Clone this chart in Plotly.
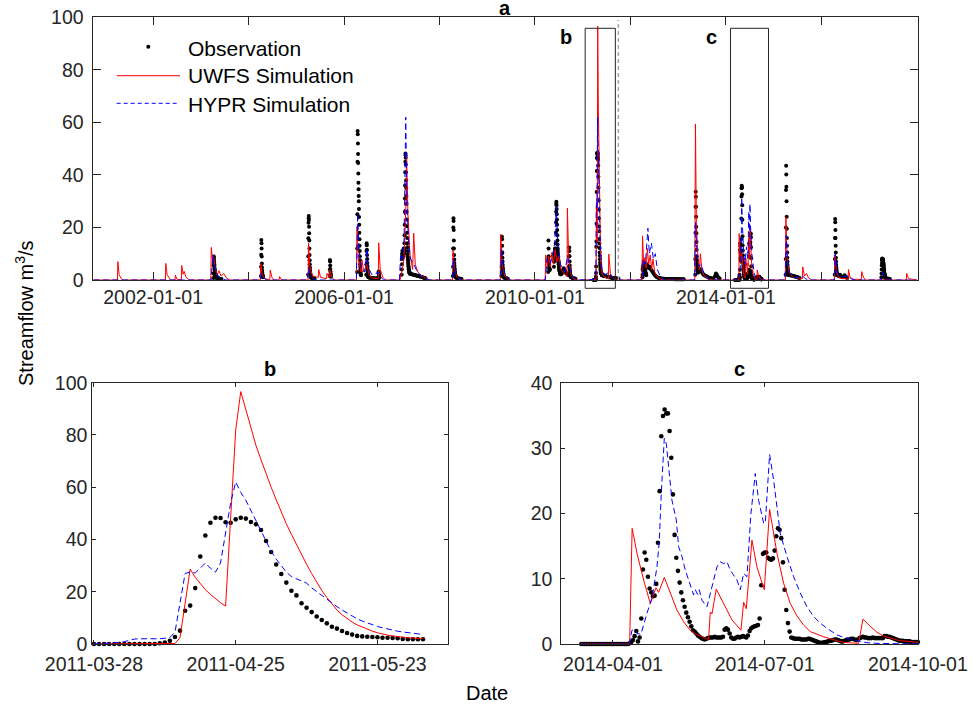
import pandas as pd
import plotly.graph_objects as go

FONT = "Liberation Sans, Arial, Helvetica, sans-serif"
TXT = "#262626"

# ---------------- Panel b: daily values from b_start ----------------
b_start = "2011-03-28"
b_obs = [0, 0, 0, 0, 0, 0, 0, 0, 0, 0, 0, 0, 0,
         0.3, 0.6, 1.2, 2.7, 5.1, 12.7, 14.7, 21.4, 33.5, 41.5,
         46.4, 48.3, 48.2, 46.6, 46.4, 47.7, 48.3, 48.0, 46.7, 45.8,
         43.6, 39.4, 35.2, 30.4, 26.8, 23.5, 20.4, 18.6, 15.6, 13.9,
         12.2, 10.5, 9.2, 7.9, 6.6, 5.9, 5.0, 4.2, 3.6, 3.1,
         2.9, 2.8, 2.7, 2.6, 2.4, 2.4, 2.3, 2.2, 1.9, 1.8, 1.8, 1.8, 1.8]
b_uwfs = [0, 0, 0, 0, 0, 0, 0, 0, 0, 0, 0, 0, 0, 0, 0, 0,
          0.2, 2.4, 15.5, 28.7, 25.5, 23.0, 20.8, 19.0, 17.3, 15.8, 14.5,
          48.0, 82.0, 96.6, 89.5, 82.5, 76.0, 70.5, 65.0, 60.0, 55.2, 50.5,
          46.0, 42.0, 38.0, 34.0, 30.5, 27.0, 23.5, 20.5, 17.8, 15.3, 13.0,
          11.2, 9.7, 8.4, 7.3, 6.4, 5.6, 4.9, 4.3, 3.8, 3.4, 3.1, 2.8,
          2.6, 2.4, 2.3, 2.2, 2.1]
b_hypr = [0, 0.1, 0.2, 0.3, 0.4, 0.6, 0.9, 1.4, 1.9, 2.0, 2.0, 1.9, 1.9, 2.0, 2.2, 2.5,
          4.5, 15.0, 27.0, 27.5, 27.2, 29.0, 31.0, 29.0, 27.5, 31.0, 42.0, 54.0, 62.0,
          58.0, 55.0, 51.0, 47.0, 43.0, 39.0, 35.5, 32.5, 30.0, 27.5, 25.8, 25.0,
          24.3, 23.3, 21.5, 20.0, 18.7, 17.3, 15.8, 14.3, 13.0, 11.8, 10.6, 9.6,
          8.8, 8.0, 7.3, 6.7, 6.2, 5.7, 5.3, 4.9, 4.6, 4.3, 4.1, 3.9, 3.7]

# ---------------- Panel c ----------------
c_obs_start = "2014-03-13"
c_obs = [0, 0, 0, 0, 0, 0, 0, 0, 0, 0, 0, 0, 0, 0, 0, 0, 0, 0, 0, 0,
         0, 0, 0, 0, 0, 0, 0, 0, 0,
         0.1, 0.3, 0.6, 1.2, 2.0, 0.4, 1.0, 3.9,
         11.4, 14.0, 12.9, 10.3, 8.5, 7.9, 7.3, 7.4,
         9.2, 15.5, 23.4, 31.8, 34.9, 35.9, 35.3, 35.3,
         32.6, 28.5, 22.9, 16.7, 13.2, 11.2, 9.4, 7.9,
         6.7, 5.7, 4.8, 4.1, 3.4, 2.7, 2.1, 1.9,
         1.6, 1.3, 1.1, 0.9, 0.8, 0.7, 0.8, 0.9,
         1.0, 1.0, 1.0, 1.1, 1.0, 1.0, 1.0, 1.0, 1.1,
         2.2, 2.4, 2.2, 1.6, 1.0, 0.8, 0.8, 1.0, 1.1, 1.0, 1.1, 1.2, 1.1, 1.0, 1.3,
         2.0, 2.4, 2.6, 2.7, 2.8, 2.9, 3.9,
         9.0, 13.8, 14.0, 14.0, 13.2, 13.0, 12.9, 13.1, 14.3, 16.5, 17.7, 17.5,
         16.2, 12.5, 8.3, 5.2, 3.2, 1.9, 1.0, 0.9,
         0.8, 0.8, 0.8, 0.8, 0.7, 0.7, 0.7, 0.7, 0.8, 0.8, 0.7, 0.6,
         0.5, 0.4, 0.3, 0.2, 0.2, 0.2, 0.3, 0.3, 0.4, 0.5,
         0.5, 0.6, 0.7, 0.7, 0.6, 0.5, 0.4, 0.4, 0.5, 0.6, 0.7, 0.7, 0.8, 0.8, 0.7, 0.6, 0.7, 0.9,
         1.0, 1.1, 1.0, 1.0, 0.9, 0.9, 0.9, 1.0, 0.9, 0.9, 0.9, 0.9, 0.9, 0.9,
         1.2, 1.2, 1.1, 1.1, 1.0, 0.9, 0.8, 0.7,
         0.6, 0.5, 0.5, 0.5, 0.4, 0.4, 0.4, 0.4, 0.3, 0.3, 0.3, 0.3, 0.3]
c_ref = "2014-04-01"   # day offsets below are counted from this date
c_uwfs_day = [-19, 10, 11.5, 14.4, 18.4, 22.4, 25.8, 27.4, 30.8, 34.4, 38.4, 42.4, 46.4,
              50.4, 57.4, 58.4, 59.4, 62, 66.4, 71.4, 76.8, 78.4, 80, 83.4, 86.4, 90.8,
              94, 98.4, 102.4, 106.4, 110.4, 114.4, 118.4, 120.4, 126.4, 134.4, 138.4,
              147.4, 150, 154.4, 158.4, 162.4, 166.4, 172.4, 183]
c_uwfs = [0, 0, 17.7, 13.9, 9.8, 6.2, 8.6, 7.9, 10.2, 7.8, 5.2, 3.4, 2.1,
          1.4, 0.7, 4.9, 4.6, 8.4, 6.2, 3.7, 2.1, 6.4, 5.4, 15.9, 11.8, 8.3,
          20.6, 13.9, 9.3, 6.2, 4.3, 2.9, 1.9, 1.7, 1.1, 0.5, 0.25,
          0.1, 3.8, 2.7, 1.8, 1.2, 0.9, 0.5, 0.25]
c_hypr_day = [-19, 9.8, 11.4, 12.8, 14.4, 16.8, 20.4, 23.4, 26.4, 27.8,
              29, 30.8, 32, 33.4, 35.4, 38, 39.4, 41.4, 43.4, 45.4,
              48.4, 49.4, 50.8, 51.8, 53.4, 56.4, 59.4, 62.4, 64.4, 66.4,
              68.4, 70.4, 74.4, 76.4, 78.4, 80.4, 82.8, 85.4, 87.4, 90.4,
              91.4, 94, 96.4, 98.4, 100.4, 104.4, 108.4, 112.4, 116.4, 120.4,
              124.4, 128.4, 134.4, 138.4, 146.4, 152.4, 158.4, 183]
c_hypr = [0, 0, 2.1, 2.2, 1.6, 1.5, 4.7, 7.0, 11.8, 15.7,
          23.1, 31.5, 30.7, 26.6, 22.0, 19.0, 14.9, 13.4, 11.3, 9.8,
          7.5, 8.3, 7.6, 8.3, 6.7, 5.7, 8.8, 11.8, 12.6, 12.3,
          12.6, 11.3, 9.8, 8.3, 10.8, 10.3, 20.0, 26.1, 22.0, 18.5,
          18.5, 29.0, 25.1, 20.5, 16.9, 13.4, 10.3, 7.8, 5.7, 4.2,
          3.2, 2.4, 1.4, 1.0, 0.5, 0.2, 0.1, 0]

# ---------------- Panel a (full record, outside the b / c windows) ----------------
a_uwfs_pts = [
    ("2000-10-01", 0),
    ("2001-04-03", 0), ("2001-04-06", 7.0), ("2001-04-16", 2.0), ("2001-05-05", 0.3), ("2001-05-20", 0),
    ("2002-04-05", 0), ("2002-04-08", 6.3), ("2002-04-18", 2.0), ("2002-05-05", 0.4), ("2002-05-15", 0),
    ("2002-06-18", 0), ("2002-06-20", 1.9), ("2002-07-01", 0.3), ("2002-08-05", 0), ("2002-08-08", 5.5),
    ("2002-08-18", 2.2), ("2002-08-26", 3.3), ("2002-09-10", 1.0), ("2002-10-01", 0.2), ("2002-10-15", 0),
    ("2003-03-18", 0), ("2003-03-22", 12.4), ("2003-04-02", 7.0), ("2003-04-08", 9.5), ("2003-04-20", 4.5),
    ("2003-05-05", 2.0), ("2003-05-20", 3.5), ("2003-06-05", 1.5), ("2003-06-25", 2.5), ("2003-07-15", 0.8),
    ("2003-08-10", 0),
    ("2004-04-01", 0), ("2004-04-04", 6.3), ("2004-04-15", 2.0), ("2004-05-05", 0.5), ("2004-06-12", 0),
    ("2004-06-15", 3.8), ("2004-06-28", 1.0), ("2004-07-15", 0), ("2004-08-22", 0), ("2004-08-25", 1.3),
    ("2004-09-10", 0),
    ("2005-04-01", 0), ("2005-04-04", 14.0), ("2005-04-15", 5.0), ("2005-05-05", 1.5), ("2005-06-18", 1.0),
    ("2005-06-21", 4.0), ("2005-07-05", 1.0), ("2005-08-20", 0.5), ("2005-08-23", 2.5), ("2005-09-12", 1.0),
    ("2005-09-15", 3.8), ("2005-09-30", 1.0), ("2005-10-20", 0),
    ("2006-04-06", 0), ("2006-04-10", 20.3), ("2006-04-20", 8.0), ("2006-05-10", 3.0), ("2006-05-18", 7.6),
    ("2006-06-01", 3.0), ("2006-06-24", 6.0), ("2006-07-10", 2.0), ("2006-08-01", 0.8), ("2006-09-20", 0.5),
    ("2006-09-23", 14.2), ("2006-10-05", 4.0), ("2006-10-25", 1.0), ("2006-11-15", 0),
    ("2007-03-05", 0), ("2007-03-15", 2.0), ("2007-04-05", 8.0), ("2007-04-20", 30.0), ("2007-04-24", 48.0),
    ("2007-05-05", 25.0), ("2007-05-20", 10.0), ("2007-06-10", 4.0), ("2007-06-18", 17.8), ("2007-06-30", 6.0),
    ("2007-07-20", 3.0), ("2007-08-20", 1.5), ("2007-09-20", 0.5), ("2007-10-15", 0),
    ("2008-04-10", 0), ("2008-04-14", 11.4), ("2008-04-25", 4.0), ("2008-05-15", 1.0), ("2008-06-10", 0),
    ("2009-04-10", 0), ("2009-04-14", 17.4), ("2009-04-25", 6.0), ("2009-05-15", 1.5), ("2009-06-15", 0),
    ("2010-03-20", 0), ("2010-03-24", 9.5), ("2010-04-05", 5.0), ("2010-04-15", 9.0), ("2010-04-28", 5.0),
    ("2010-05-10", 10.5), ("2010-05-22", 6.0), ("2010-06-05", 11.5), ("2010-06-18", 7.0), ("2010-07-01", 9.0),
    ("2010-07-20", 4.0), ("2010-08-10", 2.5), ("2010-09-03", 1.5), ("2010-09-06", 27.3), ("2010-09-16", 8.0),
    ("2010-10-05", 2.0), ("2010-10-25", 0.3), ("2010-11-15", 0),
    ("2011-01-01", 0),
    ("2011-06-15", 1.2), ("2011-07-17", 0.4), ("2011-07-20", 9.9), ("2011-08-01", 2.5), ("2011-08-25", 0.5),
    ("2011-09-20", 0),
    ("2012-03-30", 0), ("2012-04-03", 16.8), ("2012-04-12", 6.0), ("2012-04-22", 8.5), ("2012-05-01", 4.5),
    ("2012-05-10", 12.0), ("2012-05-20", 6.0), ("2012-06-01", 9.5), ("2012-06-12", 4.0), ("2012-06-22", 8.0),
    ("2012-07-05", 3.0), ("2012-07-20", 1.5), ("2012-08-20", 0.3), ("2012-09-10", 0),
    ("2013-05-08", 0), ("2013-05-13", 59.4), ("2013-05-20", 22.0), ("2013-06-01", 8.0), ("2013-06-12", 4.0),
    ("2013-06-20", 10.0), ("2013-07-01", 4.0), ("2013-07-20", 1.5), ("2013-08-20", 0.4), ("2013-09-20", 0),
    ("2014-01-01", 0),
    ("2014-10-20", 0.1), ("2014-11-01", 0),
    ("2015-04-01", 0), ("2015-04-05", 24.0), ("2015-04-15", 8.0), ("2015-05-01", 2.5), ("2015-06-01", 1.0),
    ("2015-08-09", 0.5), ("2015-08-12", 5.0), ("2015-08-25", 1.5), ("2015-09-10", 2.5), ("2015-09-25", 0.8),
    ("2015-10-20", 0),
    ("2016-04-10", 0), ("2016-04-14", 9.5), ("2016-04-25", 3.0), ("2016-05-15", 0.8), ("2016-07-24", 0.3),
    ("2016-07-27", 4.0), ("2016-08-08", 1.0), ("2016-09-01", 0.3), ("2016-11-02", 0.2), ("2016-11-05", 3.2),
    ("2016-11-20", 0.8), ("2016-12-10", 0),
    ("2017-10-12", 0), ("2017-10-15", 2.5), ("2017-10-30", 0.5), ("2017-12-31", 0),
]
a_hypr_pts = [
    ("2000-10-01", 0),
    ("2003-03-20", 0), ("2003-03-28", 5.0), ("2003-04-05", 9.5), ("2003-04-12", 6.0), ("2003-04-25", 3.5),
    ("2003-05-15", 1.5), ("2003-06-15", 0.3), ("2003-07-15", 0),
    ("2004-04-01", 0), ("2004-04-08", 2.5), ("2004-04-25", 0.8), ("2004-05-20", 0),
    ("2005-03-28", 0), ("2005-04-05", 4.5), ("2005-04-20", 1.5), ("2005-05-20", 0.3), ("2005-06-10", 0),
    ("2006-04-05", 0), ("2006-04-15", 25.4), ("2006-04-25", 12.0), ("2006-05-10", 5.0), ("2006-06-10", 3.0),
    ("2006-06-24", 12.0), ("2006-07-05", 5.0), ("2006-08-01", 2.0), ("2006-09-23", 3.0), ("2006-10-10", 1.0),
    ("2006-11-01", 0),
    ("2007-03-01", 0), ("2007-03-10", 10.0), ("2007-03-25", 8.0), ("2007-04-05", 14.0), ("2007-04-18", 62.0),
    ("2007-04-28", 28.0), ("2007-05-10", 14.0), ("2007-05-25", 8.0), ("2007-06-20", 6.0), ("2007-07-15", 3.0),
    ("2007-08-15", 1.5), ("2007-09-20", 0.5), ("2007-10-20", 0),
    ("2008-04-08", 0), ("2008-04-16", 8.0), ("2008-04-28", 3.0), ("2008-05-20", 0.8), ("2008-06-20", 0),
    ("2009-04-10", 0), ("2009-04-20", 12.0), ("2009-05-01", 5.0), ("2009-05-20", 1.5), ("2009-06-20", 0),
    ("2010-03-20", 0), ("2010-04-05", 8.0), ("2010-04-25", 6.0), ("2010-05-15", 9.0), ("2010-06-01", 14.0),
    ("2010-06-12", 28.0), ("2010-06-25", 14.0), ("2010-07-15", 6.0), ("2010-08-15", 3.0), ("2010-09-08", 9.0),
    ("2010-09-25", 4.0), ("2010-10-20", 1.0), ("2010-11-20", 0),
    ("2011-01-01", 0),
    ("2011-06-20", 2.0), ("2011-07-22", 3.0), ("2011-08-15", 1.0), ("2011-09-20", 0),
    ("2012-04-01", 0), ("2012-04-10", 8.0), ("2012-04-25", 6.0), ("2012-05-14", 19.7), ("2012-05-25", 10.0),
    ("2012-06-10", 14.0), ("2012-06-25", 8.0), ("2012-07-10", 10.0), ("2012-07-25", 4.0), ("2012-08-20", 1.0),
    ("2012-09-20", 0),
    ("2013-05-05", 0), ("2013-05-14", 22.0), ("2013-05-25", 10.0), ("2013-06-10", 5.0), ("2013-06-25", 6.0),
    ("2013-07-20", 2.0), ("2013-08-20", 0.5), ("2013-09-20", 0),
    ("2014-01-01", 0),
    ("2014-10-15", 0),
    ("2015-03-30", 0), ("2015-04-07", 17.0), ("2015-04-18", 7.0), ("2015-05-05", 2.5), ("2015-06-05", 0.8),
    ("2015-08-12", 1.5), ("2015-09-01", 0.5), ("2015-10-01", 0),
    ("2016-04-08", 0), ("2016-04-16", 10.0), ("2016-04-28", 3.5), ("2016-05-20", 1.0), ("2016-07-28", 1.5),
    ("2016-08-20", 0.3), ("2016-09-20", 0),
    ("2017-04-05", 0), ("2017-04-15", 3.0), ("2017-05-05", 1.0), ("2017-06-01", 0), ("2017-12-31", 0),
]
# observed events: (first day, consecutive daily values)
a_obs_daily = [
    ("2003-04-07", [0.8, 2.5, 5.5, 8.9, 8.5, 7.6, 6.8, 6.0, 5.3, 4.6, 4.0, 3.5, 3.0, 2.6, 2.2, 1.9, 1.6, 1.4, 1.2, 1.0]),
    ("2004-04-05", [1.5, 5.0, 9.6, 15.2, 14.0, 12.0, 8.9, 6.3, 4.8, 3.6, 2.8, 2.2, 1.8, 1.5, 1.2, 1.0]),
    ("2005-04-01", [2.0, 8.9, 15.9, 21.8, 23.5, 24.4, 22.8, 20.3, 17.8, 15.0, 12.0, 9.5, 7.5, 6.0, 4.8, 3.8, 3.0, 2.4, 2.0, 1.6, 1.3, 1.0]),
    ("2005-09-13", [1.5, 4.0, 7.6, 7.0, 5.5, 4.2, 3.2, 2.5, 2.0, 1.6, 1.2]),
    ("2006-04-11", [3.0, 12.0, 25.0, 45.0, 56.7, 55.5, 52.0, 48.0, 44.5, 40.5, 37.0, 34.5, 32.0, 30.0, 27.0, 24.0,
                    21.0, 18.0, 15.5, 13.0, 11.0, 9.0, 7.5, 6.0, 5.0, 4.0, 3.3, 2.7, 2.2, 1.8]),
    ("2006-06-20", [2.0, 6.0, 11.0, 14.0, 13.2, 11.5, 9.5, 8.0, 6.5, 5.2, 4.2, 3.4, 2.8, 2.2, 1.8, 1.5, 1.2, 1.0]),
    ("2006-09-21", [1.0, 2.5, 3.2, 2.6, 2.0, 1.5, 1.2, 1.0]),
    ("2007-03-18", [2.0, 4.0, 6.0, 8.0, 10.0, 11.0, 10.0, 9.0, 8.5, 9.0, 10.0, 11.0, 10.0, 9.0, 9.5, 10.5, 12.0, 11.0,
                    10.0, 11.0, 12.0, 14.0, 17.0, 21.0, 26.0, 31.0, 36.0, 41.0, 45.0, 48.2, 47.5, 46.5, 44.0, 41.0,
                    38.0, 35.0, 32.0, 29.0, 26.0, 23.0, 20.5, 18.0, 16.0, 14.0, 12.5, 11.0, 9.8, 8.7, 7.8, 7.0,
                    6.3, 5.7, 5.2, 4.7, 4.3, 4.0, 3.7, 3.4, 3.2, 3.0, 2.8, 2.6, 2.5]),
    ("2008-04-13", [1.5, 5.0, 12.0, 20.0, 23.5, 22.5, 19.0, 15.0, 12.0, 9.5, 7.8, 6.5, 5.4, 4.5, 3.8, 3.2, 2.7, 2.3,
                    2.0, 1.7, 1.5, 1.3, 1.1, 1.0]),
    ("2009-04-20", [1.5, 5.0, 10.0, 16.5, 15.5, 13.0, 10.5, 8.5, 7.0, 5.8, 4.8, 4.0, 3.3, 2.8, 2.4, 2.0, 1.7, 1.4, 1.2, 1.0]),
    ("2010-04-12", [3.0, 8.0, 15.0, 12.0, 9.0, 7.0, 6.0, 5.5, 5.0, 4.5, 4.2, 4.0, 3.8]),
    ("2010-05-26", [5.0, 7.0, 10.0, 9.0, 8.0, 7.0, 8.0, 10.0, 12.0, 11.0, 10.0, 9.0, 10.0, 12.0, 14.0, 18.0, 22.0,
                    26.0, 29.0, 29.8, 28.5, 27.0, 25.0, 23.0, 21.0, 19.0, 17.0, 15.0, 13.5, 12.0, 11.0, 10.0, 9.0,
                    8.0, 7.5, 7.0, 6.5, 6.0, 5.5, 5.0, 4.6, 4.2, 3.9, 3.6, 3.3, 3.0, 2.8, 2.6, 2.4, 2.2]),
    ("2010-09-17", [2.0, 5.0, 9.0, 12.4, 11.0, 9.0, 7.0, 5.5, 4.3, 3.5, 2.8, 2.3, 1.9, 1.6, 1.3, 1.1]),
    ("2012-04-02", [1.0, 2.0, 4.0, 5.0, 4.5, 4.0, 3.5, 4.0, 5.0, 6.0, 7.0, 6.5, 5.5, 5.0, 4.5, 4.0, 4.5, 5.0, 5.5,
                    5.0, 4.5, 4.0, 3.5, 3.0, 2.8, 2.6, 2.4, 2.2, 2.0, 1.8]),
    ("2013-05-11", [2.0, 8.0, 18.0, 27.9, 33.6, 31.7, 27.9, 24.1, 20.3, 17.8, 14.5, 11.5, 9.0, 7.5, 6.3, 5.3, 4.6,
                    4.0, 3.6, 3.3, 3.0, 2.8]),
    ("2015-04-03", [2.0, 8.0, 20.0, 34.3, 43.5, 40.2, 35.5, 30.0, 24.1, 19.5, 16.0, 13.0, 10.5, 8.5, 7.0, 5.8, 4.8,
                    4.0, 3.4, 2.9, 2.5, 2.2, 2.0]),
    ("2016-04-13", [2.0, 8.0, 16.0, 23.2, 22.0, 19.0, 16.0, 13.0, 10.5, 8.5, 7.0, 5.8, 4.8, 4.0, 3.4, 2.9, 2.5, 2.2, 2.0]),
    ("2017-04-05", [1.0, 2.5, 4.0, 5.5, 6.5, 7.5, 8.2, 8.0, 7.8, 7.5, 7.8, 8.0, 7.6, 7.2, 6.8, 6.4, 6.0, 5.5, 5.0,
                    4.5, 4.0, 3.5, 3.0, 2.6, 2.2, 1.9, 1.6, 1.3, 1.1, 0.9]),
]
# observed recession tails: (first day, weekly values)
a_obs_weekly = [
    ("2003-04-27", [0.9, 0.8, 0.7, 0.6, 0.5, 0.5, 0.4]),
    ("2005-04-23", [0.9, 0.8, 0.7, 0.6, 0.5]),
    ("2006-07-08", [1.0, 0.9, 0.9, 0.8, 0.8, 0.7, 0.7, 0.6, 0.6, 0.6, 0.5, 0.5]),
    ("2007-05-20", [2.4, 2.3, 2.2, 2.1, 2.0, 1.9, 1.8, 1.7, 1.6, 1.5, 1.4, 1.3, 1.2, 1.1, 1.0, 0.9, 0.8, 0.7]),
    ("2008-05-07", [0.9, 0.8, 0.7, 0.6, 0.5, 0.5, 0.4]),
    ("2009-05-10", [0.9, 0.8, 0.7, 0.6, 0.5]),
    ("2010-07-20", [2.2, 2.6, 3.5, 4.5, 3.8, 3.0, 2.5, 2.0]),
    ("2010-10-03", [1.0, 0.9, 0.8, 0.7, 0.6, 0.5]),
    ("2011-06-05", [1.7, 1.6, 1.5, 1.4, 1.3, 1.2, 1.1, 1.0, 1.0, 0.9, 0.9, 0.8, 0.8, 0.7, 0.7, 0.6, 0.6, 0.5]),
    ("2012-05-02", [5.0, 6.0, 5.0, 4.5, 5.0, 4.0, 3.5, 3.0, 2.5, 2.0, 1.5, 1.2, 1.0, 0.9, 0.8, 0.7, 0.6, 0.6, 0.5,
                    0.5, 0.5, 0.4, 0.4, 0.4, 0.4, 0.4, 0.4, 0.4, 0.4, 0.4, 0.4, 0.3, 0.3, 0.3, 0.3, 0.3, 0.3,
                    0.3, 0.3, 0.3, 0.3, 0.3]),
    ("2013-06-02", [3.2, 4.4, 4.0, 3.5, 3.0, 2.5, 2.0, 1.8, 1.6, 1.4, 1.2, 1.0, 0.9, 0.8, 0.7, 0.6, 0.6, 0.5]),
    ("2013-10-10", [1.5, 2.5, 2.0, 1.2, 0.8, 0.6]),
    ("2015-04-26", [1.9, 1.8, 1.8, 1.7, 1.6, 1.5, 1.4, 1.3, 1.2, 1.1, 1.0, 0.9, 0.8]),
    ("2016-05-02", [1.8, 1.6, 1.5, 2.0, 1.5, 1.2, 1.0, 1.2, 1.8, 1.3, 1.0, 0.8]),
    ("2017-05-05", [0.8, 0.7, 0.6, 0.5, 0.5, 0.4]),
]

a_year_ticks = ["2002-01-01", "2006-01-01", "2010-01-01", "2014-01-01"]
a_minor_ticks = ["2004-01-01", "2008-01-01", "2012-01-01", "2016-01-01"]
b_ticks = ["2011-03-28", "2011-04-25", "2011-05-23"]
c_ticks = ["2014-04-01", "2014-07-01", "2014-10-01"]
split_date = "2011-10-01"
zoom_b = ("2011-01-20", "2011-09-08")
zoom_c = ("2014-02-05", "2014-11-23")

# ---------------- assemble series ----------------
b_dates = pd.date_range(b_start, periods=len(b_obs), freq="D")
c_obs_dates = pd.date_range(c_obs_start, periods=len(c_obs), freq="D")
c_uwfs_dates = pd.Timestamp(c_ref) + pd.to_timedelta(c_uwfs_day, unit="D")
c_hypr_dates = pd.Timestamp(c_ref) + pd.to_timedelta(c_hypr_day, unit="D")


def merged(pts, *extra):
    s = [pd.Series([v for _, v in pts], index=pd.to_datetime([d for d, _ in pts]))]
    for idx, vals in extra:
        s.append(pd.Series(list(vals), index=pd.DatetimeIndex(idx)))
    return pd.concat(s).sort_index()


a_uwfs_s = merged(a_uwfs_pts, (b_dates, b_uwfs), (c_uwfs_dates, c_uwfs))
a_hypr_s = merged(a_hypr_pts, (b_dates, b_hypr), (c_hypr_dates, c_hypr))

obs_parts = [pd.Series(b_obs, index=b_dates), pd.Series(c_obs, index=c_obs_dates)]
for start, vals in a_obs_daily:
    obs_parts.append(pd.Series(vals, index=pd.date_range(start, periods=len(vals), freq="D")))
for start, vals in a_obs_weekly:
    obs_parts.append(pd.Series(vals, index=pd.date_range(start, periods=len(vals), freq="7D")))
a_obs_s = pd.concat(obs_parts).sort_index()

RED = "#FF0000"
BLUE = "#0000FF"
DASH = "6px,3.5px"

fig = go.Figure()


def add_set(xo, yo, xu, yu, xh, yh, xa, ya, msize):
    fig.add_trace(go.Scatter(x=xo, y=yo, mode="markers", xaxis=xa, yaxis=ya, cliponaxis=False,
                             marker=dict(color="black", size=msize, line=dict(width=0)),
                             name="Observation", showlegend=False))
    fig.add_trace(go.Scatter(x=xu, y=yu, mode="lines", xaxis=xa, yaxis=ya,
                             line=dict(color=RED, width=1), name="UWFS Simulation", showlegend=False))
    fig.add_trace(go.Scatter(x=xh, y=yh, mode="lines", xaxis=xa, yaxis=ya,
                             line=dict(color=BLUE, width=1, dash=DASH), name="HYPR Simulation",
                             showlegend=False))


add_set(a_obs_s.index, a_obs_s.values, a_uwfs_s.index, a_uwfs_s.values,
        a_hypr_s.index, a_hypr_s.values, "x", "y", 4)
add_set(b_dates, b_obs, b_dates, b_uwfs, b_dates, b_hypr, "x2", "y2", 4.6)
add_set(c_obs_dates, c_obs, c_uwfs_dates, c_uwfs, c_hypr_dates, c_hypr, "x3", "y3", 4.6)

W, H = 972, 711


def px_x(p):
    return p / W


def px_y(p):
    return 1 - p / H


def axis(ticklen, **kw):
    d = dict(showline=True, linecolor=TXT, linewidth=1, mirror="ticks", ticks="inside",
             ticklen=ticklen, tickwidth=1, tickcolor=TXT, showgrid=False, zeroline=False,
             automargin=False,
             tickfont=dict(family=FONT, size=19.5, color=TXT), fixedrange=True)
    d.update(kw)
    return d


fig.update_layout(
    width=W, height=H, margin=dict(l=0, r=0, t=0, b=0, autoexpand=False),
    paper_bgcolor="white", plot_bgcolor="white", showlegend=False,
    font=dict(family=FONT, color=TXT),
    xaxis=axis(8, type="date", domain=[px_x(92.5), px_x(918)], range=["2000-09-24", "2018-01-10"],
               tickmode="array", tickvals=a_year_ticks, ticktext=a_year_ticks, anchor="y",
               minor=dict(tickmode="array", tickvals=a_minor_ticks, ticks="inside", ticklen=8,
                          tickwidth=1, tickcolor=TXT, showgrid=False)),
    yaxis=axis(8, domain=[px_y(280), px_y(17.3)], range=[0, 100], tickmode="array",
               tickvals=[0, 20, 40, 60, 80, 100], anchor="x", ticklabelstandoff=4),
    xaxis2=axis(4, type="date", domain=[px_x(92.3), px_x(448.3)],
                range=["2011-03-27 16:00", "2011-06-06"], tickmode="array",
                tickvals=b_ticks, ticktext=b_ticks, anchor="y2", ticklabelstandoff=3),
    yaxis2=axis(4, domain=[px_y(644), px_y(382.7)], range=[0, 100], tickmode="array",
                tickvals=[0, 20, 40, 60, 80, 100], anchor="x2"),
    xaxis3=axis(4, type="date", domain=[px_x(561.3), px_x(918)],
                range=["2014-03-01", "2014-10-01 01:00"], tickmode="array",
                tickvals=c_ticks, ticktext=c_ticks, anchor="y3", ticklabelstandoff=3),
    yaxis3=axis(4, domain=[px_y(644), px_y(382.7)], range=[0, 40], tickmode="array",
                tickvals=[0, 10, 20, 30, 40], anchor="x3", ticklabelstandoff=4),
)

shapes = [
    dict(type="line", xref="x", yref="y", x0=split_date, x1=split_date, y0=0, y1=99,
         line=dict(color="#A6A6A6", width=1.5, dash="4px,3px")),
    dict(type="rect", xref="x", yref="paper", x0=zoom_b[0], x1=zoom_b[1],
         y0=px_y(288.3), y1=px_y(28.3), line=dict(color=TXT, width=1)),
    dict(type="rect", xref="x", yref="paper", x0=zoom_c[0], x1=zoom_c[1],
         y0=px_y(288.3), y1=px_y(28.3), line=dict(color=TXT, width=1)),
    # legend samples
    dict(type="line", xref="paper", yref="paper", x0=px_x(116.7), x1=px_x(180), y0=px_y(75.7),
         y1=px_y(75.7), line=dict(color=RED, width=1)),
    dict(type="line", xref="paper", yref="paper", x0=px_x(116.7), x1=px_x(178), y0=px_y(103.3),
         y1=px_y(103.3), line=dict(color=BLUE, width=1, dash="4px,3px")),
    dict(type="circle", xref="paper", yref="paper", xsizemode="pixel", ysizemode="pixel",
         xanchor=px_x(148.3), yanchor=px_y(46.7), x0=-2, x1=2, y0=-2, y1=2,
         fillcolor="black", line=dict(width=0)),
]
fig.update_layout(shapes=shapes)

ann = []
for txt, x, y in [("a", 505, 8), ("b", 270.3, 369), ("c", 739.6, 369)]:
    ann.append(dict(text="<b>%s</b>" % txt, xref="paper", yref="paper", x=px_x(x), y=px_y(y),
                    xanchor="center", yanchor="middle", showarrow=False,
                    font=dict(family=FONT, size=20, color="black")))
for txt, d in [("b", "2010-08-26"), ("c", "2013-09-11")]:
    ann.append(dict(text="<b>%s</b>" % txt, xref="x", yref="paper", x=d, y=px_y(37),
                    xanchor="center", yanchor="middle", showarrow=False,
                    font=dict(family=FONT, size=20, color="black")))
for txt, y in [("Observation", 48.3), ("UWFS Simulation", 76), ("HYPR Simulation", 104)]:
    ann.append(dict(text=txt, xref="paper", yref="paper", x=px_x(186), y=px_y(y),
                    xanchor="left", yanchor="middle", showarrow=False,
                    font=dict(family=FONT, size=21, color="black")))
ann.append(dict(text="Streamflow m<sup>3</sup>/s", xref="paper", yref="paper", x=px_x(24),
                y=px_y(313), textangle=-90, xanchor="center", yanchor="middle", showarrow=False,
                font=dict(family=FONT, size=20, color="black")))
ann.append(dict(text="Date", xref="paper", yref="paper", x=px_x(487), y=px_y(693),
                xanchor="center", yanchor="middle", showarrow=False,
                font=dict(family=FONT, size=20, color="black")))
fig.update_layout(annotations=ann)

# the page body has a default 8px margin; remove it so the figure fills the window exactly
fig.write_html("out.html", config={"displayModeBar": False},
               post_script="document.body.style.margin='0px';")
